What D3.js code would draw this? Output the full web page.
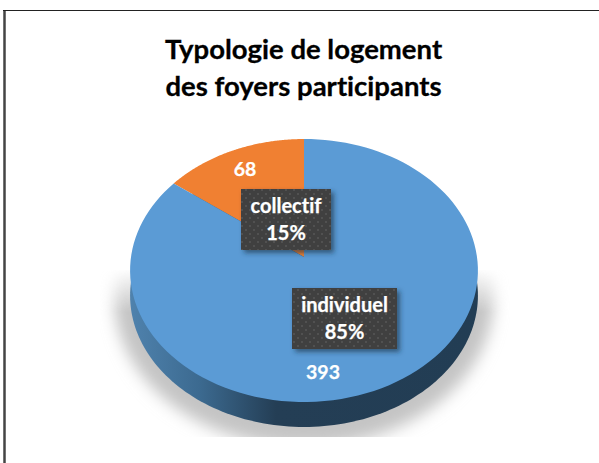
<!DOCTYPE html>
<html lang="fr">
<head>
<meta charset="UTF-8" />
<title>Typologie de logement des foyers participants</title>
<style>
  html, body { margin: 0; padding: 0; background: #fff; }
  svg { display: block; }
  text { font-family: Lato, "Open Sans", sans-serif; font-weight: 700; font-variant-ligatures: none; }
</style>
</head>
<body>
<svg width="599" height="463"></svg>
<script src="https://cdn.jsdelivr.net/npm/d3@7/dist/d3.min.js"></script>
<script>
var categories = ["collectif", "individuel"];
var values = [68, 393];
var titleLines = ["Typologie de logement", "des foyers participants"];
var colors = ["#f08032", "#5b9bd5"];

var svg = d3.select("svg"),
    width = +svg.attr("width"),
    height = +svg.attr("height");

// the pie is drawn with a slight perspective: hub is above the centre of the ellipse
var hub = {x: 304, y: 257},
    spreadX = 173, spreadY = 130.1, persp = 0.1027,
    depth = 25;

// layout of the labels, same order as categories
var valuePos = [[245, 176], [323, 379]];
var boxPos = [{x: 241, y: 189, w: 90, h: 61}, {x: 292, y: 288, w: 105, h: 61}];

function project(angle, r) {
  var u = r * Math.sin(angle), v = r * Math.cos(angle), w = 1 + persp * v;
  return [hub.x + spreadX * u / w, hub.y - spreadY * v / w];
}

var defs = svg.append("defs");

var sideGrad = defs.append("linearGradient").attr("id", "side")
    .attr("gradientUnits", "userSpaceOnUse")
    .attr("x1", 130).attr("x2", 478).attr("y1", 0).attr("y2", 0);
sideGrad.append("stop").attr("offset", "0%").attr("stop-color", "#4f82ad");
sideGrad.append("stop").attr("offset", "20%").attr("stop-color", "#3c6a90");
sideGrad.append("stop").attr("offset", "42%").attr("stop-color", "#243e55");
sideGrad.append("stop").attr("offset", "100%").attr("stop-color", "#223d54");

defs.append("filter").attr("id", "soft")
    .attr("x", "-20%").attr("y", "-20%").attr("width", "140%").attr("height", "140%")
  .append("feGaussianBlur").attr("stdDeviation", 7);

defs.append("clipPath").attr("id", "shadowClip")
  .append("rect").attr("x", 100).attr("y", 270).attr("width", 410).attr("height", 167);

// shadow fades out towards the top of the disc
var fade = defs.append("linearGradient").attr("id", "fade")
    .attr("gradientUnits", "userSpaceOnUse")
    .attr("x1", 0).attr("x2", 0).attr("y1", 268).attr("y2", 312);
fade.append("stop").attr("offset", "0%").attr("stop-color", "#000");
fade.append("stop").attr("offset", "100%").attr("stop-color", "#fff");
defs.append("mask").attr("id", "fadeMask").attr("maskUnits", "userSpaceOnUse")
    .attr("x", 0).attr("y", 0).attr("width", width).attr("height", height)
  .append("rect").attr("width", width).attr("height", height).attr("fill", "url(#fade)");

var boxShadow = defs.append("filter").attr("id", "boxShadow")
    .attr("x", "-20%").attr("y", "-20%").attr("width", "150%").attr("height", "150%");
boxShadow.append("feDropShadow").attr("dx", 3).attr("dy", 3).attr("stdDeviation", 2.5)
    .attr("flood-color", "#1d3448").attr("flood-opacity", 0.65);

var dots = defs.append("pattern").attr("id", "dots")
    .attr("patternUnits", "userSpaceOnUse").attr("width", 8).attr("height", 8);
dots.append("rect").attr("width", 8).attr("height", 8).attr("fill", "#404040");
dots.append("circle").attr("cx", 2).attr("cy", 2).attr("r", 1).attr("fill", "#565656");
dots.append("circle").attr("cx", 6).attr("cy", 6).attr("r", 1).attr("fill", "#565656");

// frame
svg.append("path")
    .attr("d", d3.line()([[4.5, height], [4.5, 11]]))
    .attr("fill", "none").attr("stroke", "#444").attr("stroke-width", 2.5);
svg.append("path")
    .attr("d", d3.line()([[3, 10.5], [width, 10.5]]))
    .attr("fill", "none").attr("stroke", "#222").attr("stroke-width", 1.2);

// title
svg.append("g").selectAll("text")
    .data(titleLines)
    .enter().append("text")
    .attr("x", 303.5)
    .attr("y", function(d, i) { return 59 + i * 37; })
    .attr("text-anchor", "middle")
    .attr("font-size", 27.5)
    .attr("fill", "#000")
    .attr("stroke", "#000")
    .attr("stroke-width", 0.3)
    .text(function(d) { return d; });

var pie = d3.pie().sort(null).startAngle(0).endAngle(-2 * Math.PI);
var arcs = pie(values);

var steps = d3.range(0, 1.0001, 1 / 120);
var rim = d3.range(0, 2 * Math.PI, Math.PI / 120).map(function(a) { return project(a, 1); });
var closedLine = d3.line().curve(d3.curveLinearClosed);

// ground shadow
svg.append("g").attr("clip-path", "url(#shadowClip)")
  .append("g").attr("mask", "url(#fadeMask)")
  .append("path")
    .attr("d", closedLine(rim))
    .attr("transform", "translate(304,298) scale(1.09,1.13) translate(-304,-270.5)")
    .attr("fill", "#c4c4c4")
    .attr("filter", "url(#soft)");

// side of the disc
svg.append("path")
    .attr("d", closedLine(rim))
    .attr("transform", "translate(0," + depth + ")")
    .attr("fill", "url(#side)");

// top face
svg.append("g").selectAll("path")
    .data(arcs)
    .enter().append("path")
    .attr("d", function(d) {
      var pts = steps.map(function(t) {
        return project(d.startAngle + t * (d.endAngle - d.startAngle), 1);
      });
      return closedLine([[hub.x, hub.y]].concat(pts));
    })
    .attr("fill", function(d, i) { return colors[i]; });

// values
svg.append("g").selectAll("text")
    .data(values)
    .enter().append("text")
    .attr("x", function(d, i) { return valuePos[i][0]; })
    .attr("y", function(d, i) { return valuePos[i][1]; })
    .attr("text-anchor", "middle")
    .attr("font-size", 19.5)
    .attr("fill", "#fff")
    .attr("stroke", "#fff")
    .attr("stroke-width", 0.25)
    .text(function(d) { return d; });

// category boxes
var total = d3.sum(values);
var pct = d3.format(".0%");
var box = svg.append("g").selectAll("g")
    .data(categories)
    .enter().append("g");

box.append("rect")
    .attr("x", function(d, i) { return boxPos[i].x; })
    .attr("y", function(d, i) { return boxPos[i].y; })
    .attr("width", function(d, i) { return boxPos[i].w; })
    .attr("height", function(d, i) { return boxPos[i].h; })
    .attr("fill", "url(#dots)")
    .attr("filter", "url(#boxShadow)");

box.append("text")
    .attr("x", function(d, i) { return boxPos[i].x + boxPos[i].w / 2; })
    .attr("y", function(d, i) { return boxPos[i].y + 24; })
    .attr("text-anchor", "middle")
    .attr("font-size", 20)
    .attr("fill", "#fff")
    .attr("stroke", "#fff")
    .attr("stroke-width", 0.25)
    .text(function(d) { return d; });

box.append("text")
    .attr("x", function(d, i) { return boxPos[i].x + boxPos[i].w / 2; })
    .attr("y", function(d, i) { return boxPos[i].y + 51; })
    .attr("text-anchor", "middle")
    .attr("font-size", 20)
    .attr("fill", "#fff")
    .attr("stroke", "#fff")
    .attr("stroke-width", 0.25)
    .text(function(d, i) { return pct(values[i] / total); });
</script>
</body>
</html>
